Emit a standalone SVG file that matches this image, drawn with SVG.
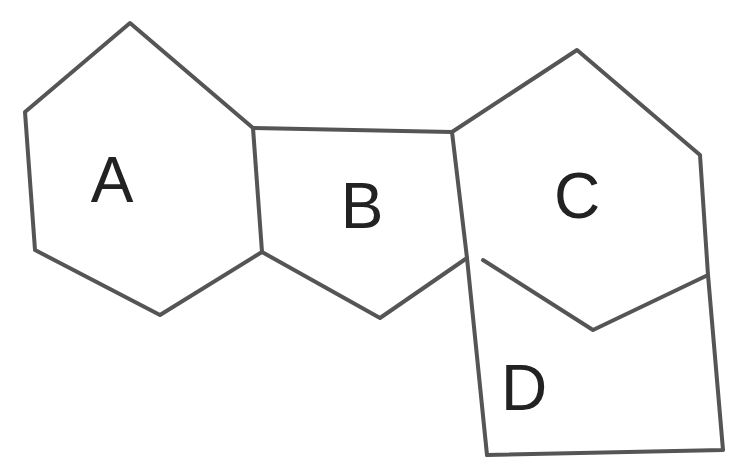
<svg xmlns="http://www.w3.org/2000/svg" width="739" height="462" viewBox="0 0 739 462">
<style>
.s{fill:none;stroke:#555;stroke-width:4;stroke-linejoin:round;stroke-linecap:round}
.t{font-family:"Liberation Sans",Arial,sans-serif;font-size:64px;fill:#222;text-anchor:middle}
</style>
<rect width="739" height="462" fill="#fff"/>
<g id="connectors">
<polyline class="s" points="253,128 452,132"/>
<polyline class="s" points="452,132 467,258 487,455"/>
</g>
<g id="A">
<polygon class="s" points="130,23 253,128 262,252 160,315 35,250 25,112"/>
<text class="t" x="112" y="202" font-weight="normal">A</text>
</g>
<g id="B">
<polyline class="s" points="262,252 380,318 467,258"/>
<text class="t" x="362" y="228">B</text>
</g>
<g id="C">
<polyline class="s" points="452,132 577,50 700,155 708,275 593,330 483,260"/>
<text class="t" x="577" y="218">C</text>
</g>
<g id="D">
<polyline class="s" points="708,275 723,450 487,455"/>
<text class="t" x="524" y="410">D</text>
</g>
</svg>
